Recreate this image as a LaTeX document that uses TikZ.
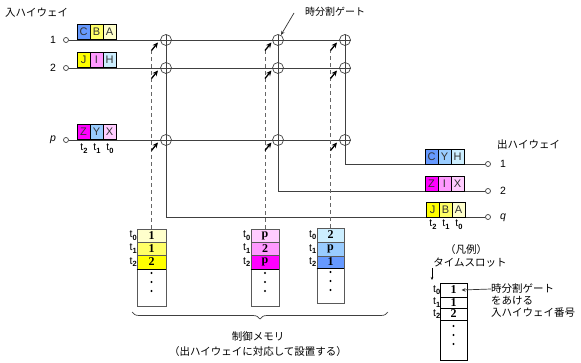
\documentclass[tikz,border=0pt]{standalone}
\usepackage{fontspec}
\setmainfont{Noto Sans CJK JP}
\newfontfamily\lat{Liberation Sans}
\newfontfamily\ser{Liberation Serif}
\usetikzlibrary{arrows.meta,shadows,decorations.pathreplacing}
\definecolor{cA}{HTML}{FFFFCC}
\definecolor{cB}{HTML}{FFFF66}
\definecolor{cJ}{HTML}{FFFF00}
\definecolor{cX}{HTML}{FFCCFF}
\definecolor{cI}{HTML}{FF99FF}
\definecolor{cZ}{HTML}{FF00FF}
\definecolor{cH}{HTML}{CCEEFF}
\definecolor{cY}{HTML}{99CCFF}
\definecolor{cC}{HTML}{6699FF}
\newcommand\tsub[1]{t\kern0.2pt\raisebox{-2.4pt}{\fontsize{7.5}{8}\selectfont\bfseries #1}}
\tikzset{
 hw/.style={draw=black!75, line width=0.8pt},
 term/.style={circle, draw=black!75, line width=0.7pt, fill=white, inner sep=0pt, minimum size=5pt},
 gate/.style={circle, draw=black!75, line width=0.7pt, inner sep=0pt, minimum size=11pt,
   path picture={\draw[black!75,line width=0.7pt] (path picture bounding box.north) -- (path picture bounding box.south) (path picture bounding box.west) -- (path picture bounding box.east);}},
 ctl/.style={draw=black!60, line width=0.8pt, dash pattern=on 4pt off 3pt},
 sel/.style={-{Stealth[length=5.5pt,width=5pt]}, line width=1.3pt, draw=black},
 slot/.style={rectangle, draw=black, line width=0.6pt, minimum width=13pt, minimum height=15pt, inner sep=0pt,
   font=\lat\fontsize{11}{12}\selectfont, text=black!80,
   drop shadow={shadow xshift=0.9pt, shadow yshift=-0.9pt, fill=black!65, opacity=1}},
 cell/.style={rectangle, draw=black!65, line width=0.6pt, inner sep=0pt, font=\ser\bfseries\fontsize{12}{12}\selectfont},
 jp/.style={font=\fontsize{10.5}{12}\selectfont, inner sep=0pt},
 tl/.style={font=\lat\fontsize{10.5}{11}\selectfont, inner sep=0pt},
 num/.style={font=\lat\fontsize{10.5}{11}\selectfont, inner sep=0pt},
 dot/.style={circle, fill=black, inner sep=0pt, minimum size=2.3pt},
 thin arrow/.style={-{Stealth[length=4pt,width=3.5pt]}, line width=0.7pt, draw=black!80},
}
\begin{document}
\begin{tikzpicture}[x=1pt,y=-1pt]
\useasboundingbox (0,0) rectangle (581,363);
\fill[white] (0,0) rectangle (581,363);

% titles
\node[jp, anchor=west] (tin) at (5,13) {入ハイウェイ};
\node[jp, anchor=west] (tout) at (497,145) {出ハイウェイ};

% input terminals
\node[term] (in1) at (66,40) {};
\node[term] (in2) at (66,68) {};
\node[term] (inp) at (66,140) {};
\node[num] (l1) at (53,40) {1};
\node[num] (l2) at (53,68) {2};
\node[num] (lp) at (53,140) {\itshape p};
\coordinate (e1) at (351,40);
\coordinate (e2) at (351,68);
\coordinate (e3) at (351,140);

% output terminals
\node[term] (out1) at (488,164) {};
\node[term] (out2) at (488,191) {};
\node[term] (outq) at (488,217) {};
\node[num, anchor=west] (o1) at (500,164) {1};
\node[num, anchor=west] (o2) at (500,191) {2};
\node[num, anchor=west] (oq) at (500,218) {\itshape q};

% gates
\foreach \r/\y in {1/40,2/68,3/140}
  \foreach \c/\x in {1/166,2/278,3/345}
    \node[gate] (g\r\c) at (\x,\y) {};

% highways
\draw[hw] (in1) -- (e1);
\draw[hw] (in2) -- (e2);
\draw[hw] (inp) -- (e3);
\draw[hw] (g11.center) |- (outq);
\draw[hw] (g12.center) |- (out2);
\draw[hw] (g13.center) |- (out1);

% input slots
\node[slot, fill=cC] (iC) at (83.5,32) {C};
\node[slot, fill=cB] (iB) at (96.5,32) {B};
\node[slot, fill=cA] (iA) at (109.5,32) {A};
\node[slot, fill=cJ] (iJ) at (83.5,60) {J};
\node[slot, fill=cI] (iI) at (96.5,60) {I};
\node[slot, fill=cH] (iH) at (109.5,60) {H};
\node[slot, fill=cZ] (iZ) at (83.5,132) {Z};
\node[slot, fill=cY] (iY) at (96.5,132) {Y};
\node[slot, fill=cX] (iX) at (109.5,132) {X};
\node[tl] (it2) at (84,148.5) {\tsub{2}};
\node[tl] (it1) at (97,148.5) {\tsub{1}};
\node[tl] (it0) at (110,148.5) {\tsub{0}};

% output slots
\node[slot, fill=cC] (oC) at (431.5,156.5) {C};
\node[slot, fill=cY] (oY) at (444.5,156.5) {Y};
\node[slot, fill=cH] (oH) at (457.5,156.5) {H};
\node[slot, fill=cZ] (oZ) at (431.5,183.5) {Z};
\node[slot, fill=cI] (oI) at (444.5,183.5) {I};
\node[slot, fill=cX] (oX) at (457.5,183.5) {X};
\node[slot, fill=cJ] (oJ) at (432.5,209.5) {J};
\node[slot, fill=cB] (oB) at (445.5,209.5) {B};
\node[slot, fill=cA] (oA) at (458.5,209.5) {A};
\node[tl] (ot2) at (433,224.5) {\tsub{2}};
\node[tl] (ot1) at (446,224.5) {\tsub{1}};
\node[tl] (ot0) at (459,224.5) {\tsub{0}};

% control memories
\node[cell, fill=cA, minimum width=29pt, minimum height=13pt] (m1a) at (151.5,235.5) {1};
\node[cell, fill=cB, minimum width=29pt, minimum height=13pt] (m1b) at (151.5,248.5) {1};
\node[cell, fill=cJ, minimum width=29pt, minimum height=14pt] (m1c) at (151.5,262) {2};
\node[cell, minimum width=29pt, minimum height=37pt] (m1d) at (151.5,287.5) {};
\node[cell, fill=cX, minimum width=28pt, minimum height=13pt] (m2a) at (265,235.5) {p};
\node[cell, fill=cI, minimum width=28pt, minimum height=13pt] (m2b) at (265,248.5) {2};
\node[cell, fill=cZ, minimum width=28pt, minimum height=14pt] (m2c) at (265,262) {p};
\node[cell, minimum width=28pt, minimum height=37pt] (m2d) at (265,287.5) {};
\node[cell, fill=cH, minimum width=27pt, minimum height=14pt] (m3a) at (330.5,235) {2};
\node[cell, fill=cY, minimum width=27pt, minimum height=14pt] (m3b) at (330.5,249) {p};
\node[cell, fill=cC, minimum width=27pt, minimum height=12pt] (m3c) at (330.5,262) {1};
\node[cell, minimum width=27pt, minimum height=35pt] (m3d) at (330.5,285.5) {};
\foreach \m in {m1c,m2c,m3c}
  \draw[line width=1.3pt] (\m.south west) -- (\m.south east);
\foreach \m/\x/\a in {m1/151.5/0,m2/265/0,m3/330.5/-1}{
  \node[dot] (\m p1) at (\x,273+\a) {};
  \node[dot] (\m p2) at (\x,282+\a) {};
  \node[dot] (\m p3) at (\x,291+\a) {};
}
\node[tl, anchor=east] (m1t0) at (137,235.5) {\tsub{0}};
\node[tl, anchor=east] (m1t1) at (137,248.5) {\tsub{1}};
\node[tl, anchor=east] (m1t2) at (137,262) {\tsub{2}};
\node[tl, anchor=east] (m2t0) at (250.5,235.5) {\tsub{0}};
\node[tl, anchor=east] (m2t1) at (250.5,248.5) {\tsub{1}};
\node[tl, anchor=east] (m2t2) at (250.5,262) {\tsub{2}};
\node[tl, anchor=east] (m3t0) at (316.5,235) {\tsub{0}};
\node[tl, anchor=east] (m3t1) at (316.5,249) {\tsub{1}};
\node[tl, anchor=east] (m3t2) at (316.5,262) {\tsub{2}};

% control lines
\coordinate (d1) at (151.5,50);
\coordinate (d2) at (265,50);
\coordinate (d3) at (330.5,50);
\draw[ctl] (m1a.north) -- (d1);
\draw[ctl] (m2a.north) -- (d2);
\draw[ctl] (m3a.north) -- (d3);
\foreach \c/\dx in {1/-14.5,2/-13,3/-14.5}
  \foreach \r in {1,2,3}
    \draw[sel] ([shift={(\dx,10.5)}]g\r\c.center) -- ([shift={(\dx+6.5,2.5)}]g\r\c.center);

% gate label
\node[jp, anchor=west, font=\fontsize{10}{12}\selectfont] (gl) at (305,12) {時分割ゲート};
\coordinate (glt) at (294,13);
\draw[thin arrow] (glt) -- (g12);

% brace
\draw[decorate, decoration={brace, amplitude=7pt}, line width=0.7pt, draw=black!75] (388,312) -- (132,312);
\node[jp] (cm1) at (258,337) {制御メモリ};
\node[jp] (cm2) at (258,352) {（出ハイウェイに対応して設置する）};

% legend
\node[jp] (lg0) at (466,250) {（凡例）};
\node[jp] (lg1) at (470,263) {タイムスロット};
\coordinate (dn1) at (432,268);
\coordinate (dn2) at (432,280);
\draw[-{Stealth[length=3pt,width=2.5pt]}, line width=0.6pt] (dn1) -- (dn2);
\node[cell, draw=black, minimum width=27pt, minimum height=14pt] (la) at (453.5,290) {1};
\node[cell, draw=black, minimum width=27pt, minimum height=11pt] (lb) at (453.5,302.5) {1};
\node[cell, draw=black, minimum width=27pt, minimum height=12pt] (lc) at (453.5,314) {2};
\node[cell, draw=black, minimum width=27pt, minimum height=40pt] (ld) at (453.5,340) {};
\node[dot] (lp1) at (453.5,326) {};
\node[dot] (lp2) at (453.5,335) {};
\node[dot] (lp3) at (453.5,344) {};
\node[tl, anchor=east] (lt0) at (440.5,290) {\tsub{0}};
\node[tl, anchor=east] (lt1) at (440.5,302.5) {\tsub{1}};
\node[tl, anchor=east] (lt2) at (440.5,314) {\tsub{2}};
\node[jp, anchor=west] (lx1) at (491,289) {時分割ゲート};
\node[jp, anchor=west] (lx2) at (491,301) {をあける};
\node[jp, anchor=west] (lx3) at (491,313) {入ハイウェイ番号};
\draw[thin arrow] (lx1.west) -- ([xshift=8pt]la.center);
\end{tikzpicture}
\end{document}
